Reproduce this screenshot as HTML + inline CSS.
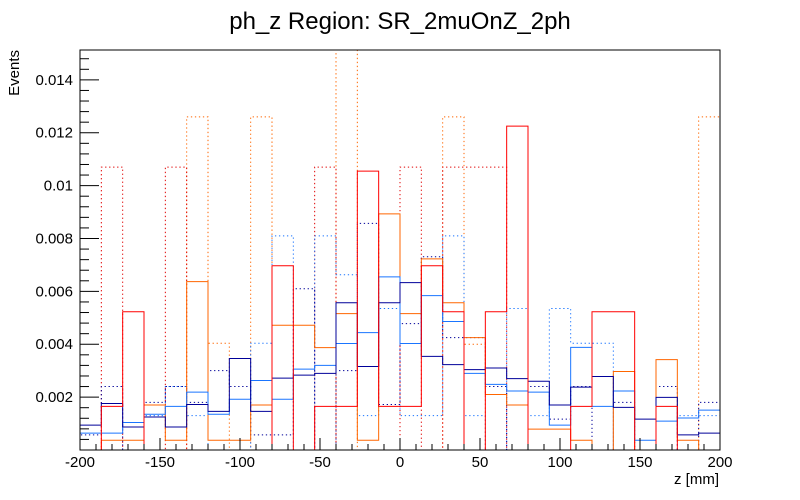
<!DOCTYPE html>
<html><head><meta charset="utf-8"><style>
body{margin:0;background:#fff;}
svg{display:block;font-family:"Liberation Sans",sans-serif;}
</style></head><body>
<svg id="c" width="800" height="500" viewBox="0 0 800 500">
<text x="400" y="29" text-anchor="middle" font-size="24">ph_z Region: SR_2muOnZ_2ph</text>
<text transform="translate(19,50) rotate(-90)" text-anchor="end" font-size="15">Events</text>
<text x="719" y="484" text-anchor="end" font-size="15">z [mm]</text>
<g id="series"></g>
<rect x="80" y="50" width="640" height="400" fill="none" stroke="#000" stroke-width="1"/>
<g id="axes"></g>
</svg>
<script>
const xMin=-200, xMax=200, nBins=30;
const yMin=0, yMax=0.01513;
const xTickLabels=["-200","-150","-100","-50","0","50","100","150","200"];
const yTickLabels=["0.002","0.004","0.006","0.008","0.01","0.012","0.014"];
const redSolid=[0,0.00165,0.00523,0,0,0,0,0,0,0.00697,0,0.00165,0.00165,0.01055,0.00165,0.00165,0.00697,0.00523,0,0.00523,0.01225,0,0,0.00165,0.00523,0.00523,0,0.00165,0,0];
const orangeSolid=[0,0.00037,0.00037,0.0017,0.00037,0.00637,0.00037,0.00037,0.0017,0.00472,0.00472,0.00387,0.00516,0.00037,0.00893,0.00516,0.00723,0.00557,0.00425,0.0021,0.0017,0.00079,0.00079,0.00037,0,0.00297,0,0.00342,0.00037,0];
const azureSolid=[0.00064,0.00064,0.00104,0.00135,0.00165,0.00219,0.00135,0.00192,0.00263,0.00192,0.00306,0.0032,0.00403,0.00444,0.00655,0.00403,0.00584,0.00486,0.0029,0.00248,0.00223,0.00219,0.00094,0.00388,0.00165,0.00223,0.00037,0.00109,0.00121,0.00151];
const navySolid=[0.00094,0.00176,0.00087,0.00125,0.00087,0.00172,0.00146,0.00346,0.00146,0.00272,0.00283,0.0029,0.00557,0.00316,0.00557,0.00633,0.00354,0.00323,0.00304,0.0031,0.0027,0.0026,0.0017,0.00238,0.00278,0.00161,0.00117,0.00199,0.00057,0.00064];
const redDotted=[0,0.0107,0,0,0.0107,0,0,0,0,0,0,0.0107,0,0,0,0.0107,0,0.0107,0.0107,0.0107,0,0,0,0,0,0,0,0,0,0];
const orangeDotted=[0,0,0,0,0,0.0126,0.00404,0,0.0126,0,0,0,0.0160,0,0,0,0,0.0126,0.004,0,0,0,0,0,0,0,0,0,0,0.0126];
const azureDotted=[0,0,0,0.0013,0.0024,0.0013,0,0,0.00404,0.0081,0,0.0081,0.00663,0.0013,0.00535,0.0013,0.0013,0.0081,0.0013,0,0.00535,0.0013,0.00535,0.00404,0.00404,0,0,0,0.0013,0.0013];
const navyDotted=[0.00057,0.0024,0,0.0018,0.0024,0.0018,0.003,0.0024,0.00057,0.00057,0.0061,0,0.003,0.00857,0.00172,0.00478,0.00731,0.00425,0.00425,0.0024,0,0.0024,0.00117,0.0024,0,0.0018,0,0.0024,0,0.0018];
const NS="http://www.w3.org/2000/svg";
const X=v=>80+(v-xMin)/(xMax-xMin)*640;
const Y=v=>450-(Math.min(v,yMax+0.0005)-yMin)/(yMax-yMin)*400;
const bw=(xMax-xMin)/nBins;
const sg=document.getElementById('series');
function drawHist(vals,color,dotted,name){
  let d="M"+X(xMin)+","+Y(0);
  vals.forEach((v,i)=>{d+=" L"+X(xMin+i*bw)+","+Y(v)+" L"+X(xMin+(i+1)*bw)+","+Y(v);});
  d+=" L"+X(xMax)+","+Y(0);
  const p=document.createElementNS(NS,'path');
  p.setAttribute('d',d);p.setAttribute('fill','none');p.setAttribute('stroke',color);
  p.setAttribute('stroke-width','1');
  if(dotted)p.setAttribute('stroke-dasharray','1.3,2.7');
  
  
  sg.appendChild(p);
}
const cp=document.createElementNS(NS,'clipPath');cp.id='clip';
const cr=document.createElementNS(NS,'rect');cr.setAttribute('x',80);cr.setAttribute('y',50);cr.setAttribute('width',640);cr.setAttribute('height',400);
cp.appendChild(cr);document.getElementById('c').appendChild(cp);
sg.setAttribute('clip-path','url(#clip)');
drawHist(orangeDotted,'#ff6600',true,'orange-dotted-series');
drawHist(redDotted,'#e00000',true,'red-dotted-series');
drawHist(azureDotted,'#1a75ff',true,'azure-dotted-series');
drawHist(navyDotted,'#000099',true,'navy-dotted-series');
drawHist(orangeSolid,'#ff6600',false,'orange-series');
drawHist(azureSolid,'#1a75ff',false,'azure-series');
drawHist(navySolid,'#000099',false,'navy-series');
drawHist(redSolid,'#ff0000',false,'red-series');
const ax=document.getElementById('axes');
function line(x1,y1,x2,y2,name){const l=document.createElementNS(NS,'line');
 l.setAttribute('x1',x1);l.setAttribute('y1',y1);l.setAttribute('x2',x2);l.setAttribute('y2',y2);l.setAttribute('stroke','#000');
 
 
 ax.appendChild(l);}
function text(x,y,s,anchor,name){const t=document.createElementNS(NS,'text');
 t.setAttribute('x',x);t.setAttribute('y',y);t.setAttribute('text-anchor',anchor);t.setAttribute('font-size','15');t.textContent=s;
 
 
 ax.appendChild(t);}
for(let v=xMin;v<=xMax;v+=10){const major=(v%50===0);line(X(v),450,X(v),major?438:444,'x-tick');}
xTickLabels.forEach(s=>text(X(parseFloat(s)),467,s,'middle','x-tick-label'));
for(let k=1;k*0.0004<=yMax;k++){const v=k*0.0004;const major=(k%5===0);line(80,Y(v),major?99:89,Y(v),'y-tick');}
yTickLabels.forEach(s=>text(73,Y(parseFloat(s))+5,s,'end','y-tick-label'));
</script>
</body></html>
